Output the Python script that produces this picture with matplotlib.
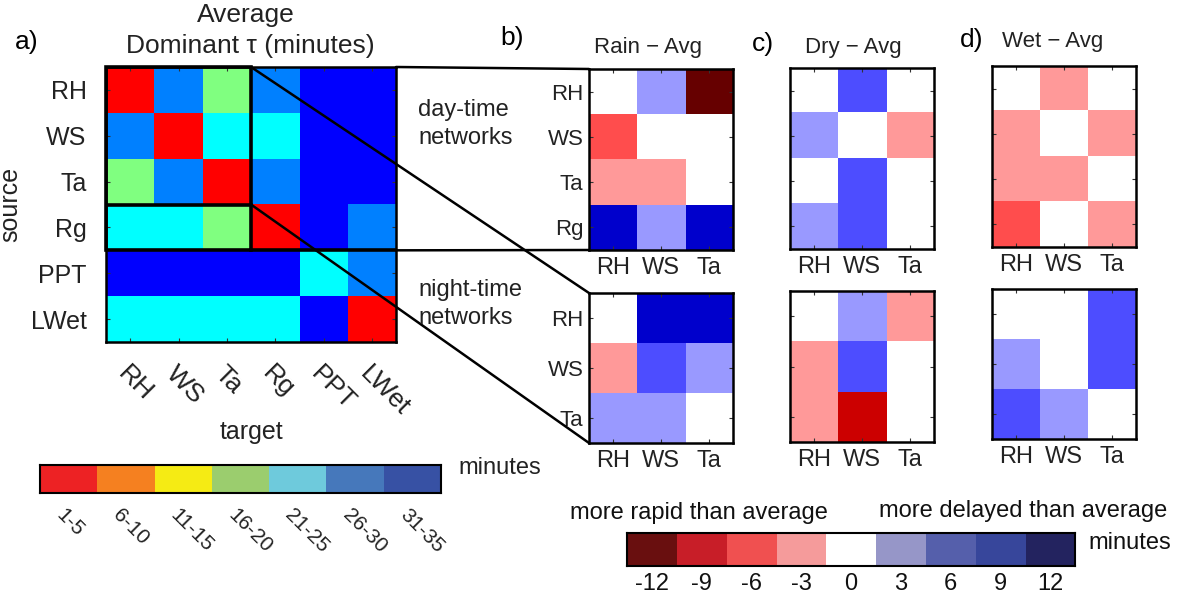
import matplotlib.pyplot as plt
import numpy as np
from matplotlib.colors import ListedColormap, BoundaryNorm
from matplotlib.patches import Rectangle, ConnectionPatch

plt.rcParams['font.family'] = ['Liberation Sans', 'DejaVu Sans']

# ---- data ----
vars_all = ['RH', 'WS', 'Ta', 'Rg', 'PPT', 'LWet']
vars_day = ['RH', 'WS', 'Ta', 'Rg']
vars_night = ['RH', 'WS', 'Ta']

# average dominant tau, minutes (mid value of each 5-minute bin)
tau_avg = [[3, 28, 18, 28, 33, 33],
           [28, 3, 23, 23, 33, 33],
           [18, 28, 3, 28, 33, 33],
           [23, 23, 18, 3, 33, 28],
           [33, 33, 33, 33, 23, 28],
           [23, 23, 23, 23, 33, 3]]
tau_bins = ['1-5', '6-10', '11-15', '16-20', '21-25', '26-30', '31-35']

# differences from the average (minutes), rows = source, cols = target
rain_day = [[0, 3, -12], [-6, 0, 0], [-3, -3, 0], [9, 3, 9]]
rain_night = [[0, 9, 9], [-3, 6, 3], [3, 3, 0]]
dry_day = [[0, 6, 0], [3, 0, -3], [0, 6, 0], [3, 6, 0]]
dry_night = [[0, 3, -3], [-3, 6, 0], [-3, -9, 0]]
wet_day = [[0, -3, 0], [-3, 0, -3], [-3, -3, 0], [-6, 0, -3]]
wet_night = [[0, 0, 6], [3, 0, 6], [6, 3, 0]]
diff_levels = [-12, -9, -6, -3, 0, 3, 6, 9, 12]

# ---- colours ----
jet7 = ['#ff0000', '#ff8000', '#ffff00', '#80ff80', '#00ffff', '#0080ff', '#0000ff']
tau_cmap = ListedColormap(jet7)
tau_norm = BoundaryNorm(np.arange(0.5, 36, 5), 7)
bar7 = ['#ed2224', '#f58020', '#f5eb14', '#9bcd6e', '#6ecadc', '#4678bb', '#3751a4']

diff_cols = ['#660000', '#cc0000', '#ff4d4d', '#ff9999', '#ffffff',
             '#9999ff', '#4d4dff', '#0000cc', '#000066']
diff_cmap = ListedColormap(diff_cols)
diff_norm = BoundaryNorm(np.arange(-13.5, 14, 3), 9)
bar9 = ['#690f0f', '#c81e28', '#f05050', '#f59b9b', '#ffffff',
        '#9696c8', '#555fab', '#37469b', '#23235f']

W, H = 1177, 598
fig = plt.figure(figsize=(W / 100, H / 100), dpi=100)


def box(x0, y0, x1, y1):
    return [x0 / W, 1 - y1 / H, (x1 - x0) / W, (y1 - y0) / H]


def style_axes(ax, lw=1.8):
    for s in ax.spines.values():
        s.set_linewidth(lw)
    ax.tick_params(direction='in', top=True, right=True, length=3, width=0.8,
                   color='#333333')


# ---- panel a ----
ax_a = fig.add_axes(box(106, 67, 396, 342))
ax_a.imshow(tau_avg, cmap=tau_cmap, norm=tau_norm, aspect='auto',
            interpolation='nearest')
ax_a.set_xticks(range(len(vars_all)))
ax_a.set_yticks(range(len(vars_all)))
ax_a.set_xticklabels(vars_all, rotation=-45, ha='left', va='top',
                     rotation_mode='anchor', fontsize=19, color='#222222')
ax_a.set_yticklabels(vars_all, fontsize=18, color='#222222')
style_axes(ax_a)
ax_a.tick_params(axis='x', pad=14)
ax_a.tick_params(axis='y', pad=14)
ax_a.set_xlabel('target', fontsize=18, color='#222222', labelpad=0)
ax_a.set_ylabel('source', fontsize=18, color='#222222', labelpad=6)
ax_a.add_patch(Rectangle((-0.5, -0.5), 3, 4, fill=False, lw=2.6,
                         ec='k', clip_on=False, zorder=5))
ax_a.plot([-0.5, 2.5], [2.5, 2.5], color='k', lw=2.6, zorder=5)
ax_a.plot([2.5, 5.5], [3.5, 3.5], color='k', lw=2.6, zorder=5)
ax_a.set_xlim(-0.5, 5.5)
ax_a.set_ylim(5.5, -0.5)

fig.text(15 / W, 1 - 42 / H, 'a)', fontsize=19, va='center')
fig.text(246 / W, 1 - 15 / H, 'Average', fontsize=19, ha='center', va='center',
         color='#222222')
fig.text(250 / W, 1 - 46 / H, 'Dominant τ (minutes)', fontsize=19,
         ha='center', va='center', color='#222222')

# colour bar for panel a
cb_a = fig.add_axes(box(40, 465, 441, 493))
cb_a.imshow([list(range(len(tau_bins)))], cmap=ListedColormap(bar7),
            aspect='auto', interpolation='nearest')
cb_a.set_yticks([])
cb_a.set_xticks([i - 0.05 for i in range(len(tau_bins))])
cb_a.set_xticklabels(tau_bins, rotation=-45, ha='left', va='top',
                     rotation_mode='anchor', fontsize=15, color='#222222')
cb_a.tick_params(length=0, pad=9)
for s in cb_a.spines.values():
    s.set_linewidth(1.5)
fig.text(458 / W, 1 - 468 / H, 'minutes', fontsize=17, va='center',
         color='#222222')

# ---- panels b, c, d ----
pos_day = [(589, 69, 733, 250), (790, 68, 934, 249), (992, 66, 1136, 247)]
pos_night = [(589, 293, 733, 443), (790, 291, 934, 442), (992, 289, 1136, 439)]
day_sets = [rain_day, dry_day, wet_day]
night_sets = [rain_night, dry_night, wet_night]


def draw_diff(ax, mat, ylabels, show_y):
    ax.imshow(mat, cmap=diff_cmap, norm=diff_norm, aspect='auto',
              interpolation='nearest')
    ax.set_xticks(range(len(vars_night)))
    ax.set_xticklabels(vars_night, fontsize=17, color='#222222')
    ax.set_yticks(range(len(ylabels)))
    if show_y:
        ax.set_yticklabels(ylabels, fontsize=16, color='#222222')
    else:
        ax.set_yticklabels([])
    style_axes(ax)
    ax.tick_params(axis='x', pad=5)
    ax.tick_params(axis='y', pad=4)


day_axes = []
night_axes = []
for k in range(3):
    axd = fig.add_axes(box(*pos_day[k]))
    draw_diff(axd, day_sets[k], vars_day, k == 0)
    day_axes.append(axd)
    axn = fig.add_axes(box(*pos_night[k]))
    draw_diff(axn, night_sets[k], vars_night, k == 0)
    night_axes.append(axn)

fig.text(500 / W, 1 - 38 / H, 'b)', fontsize=19, va='center')
fig.text(752 / W, 1 - 44 / H, 'c)', fontsize=19, va='center')
fig.text(960 / W, 1 - 40 / H, 'd)', fontsize=19, va='center')
fig.text(648 / W, 1 - 47 / H, 'Rain − Avg', fontsize=16, ha='center',
         va='center', color='#222222')
fig.text(853 / W, 1 - 47 / H, 'Dry − Avg', fontsize=16, ha='center',
         va='center', color='#222222')
fig.text(1053 / W, 1 - 42 / H, 'Wet − Avg', fontsize=16, ha='center',
         va='center', color='#222222')

fig.text(418 / W, 1 - 124 / H, 'day-time\nnetworks', fontsize=17,
         va='center', linespacing=1.3, color='#222222')
fig.text(418 / W, 1 - 304 / H, 'night-time\nnetworks', fontsize=17,
         va='center', linespacing=1.3, color='#222222')

# zoom lines from panel a to panel b
links = [((5.5, -0.5), day_axes[0], (0, 1)),
         ((5.5, 3.5), day_axes[0], (0, 0)),
         ((2.5, -0.5), night_axes[0], (0, 1)),
         ((2.5, 2.5), night_axes[0], (0, 0))]
for xy_a, axb, xy_b in links:
    con = ConnectionPatch(xyA=xy_a, coordsA=ax_a.transData, xyB=xy_b,
                          coordsB=axb.transAxes, color='k', lw=1.8)
    fig.add_artist(con)

# colour bar for differences
cb_d = fig.add_axes(box(627, 533, 1075, 566))
cb_d.imshow([list(range(len(diff_levels)))], cmap=ListedColormap(bar9),
            aspect='auto', interpolation='nearest')
cb_d.set_yticks([])
cb_d.set_xticks(range(len(diff_levels)))
cb_d.set_xticklabels([str(v) for v in diff_levels], fontsize=17,
                     color='#111111')
cb_d.tick_params(length=0, pad=5)
for s in cb_d.spines.values():
    s.set_linewidth(1.5)
fig.text(570 / W, 1 - 513 / H, 'more rapid than average', fontsize=17,
         va='center', color='#111111')
fig.text(1167 / W, 1 - 511 / H, 'more delayed than average', fontsize=17,
         ha='right', va='center', color='#111111')
fig.text(1088 / W, 1 - 543 / H, 'minutes', fontsize=17, va='center',
         color='#111111')

fig.savefig('out.png', dpi=100)
